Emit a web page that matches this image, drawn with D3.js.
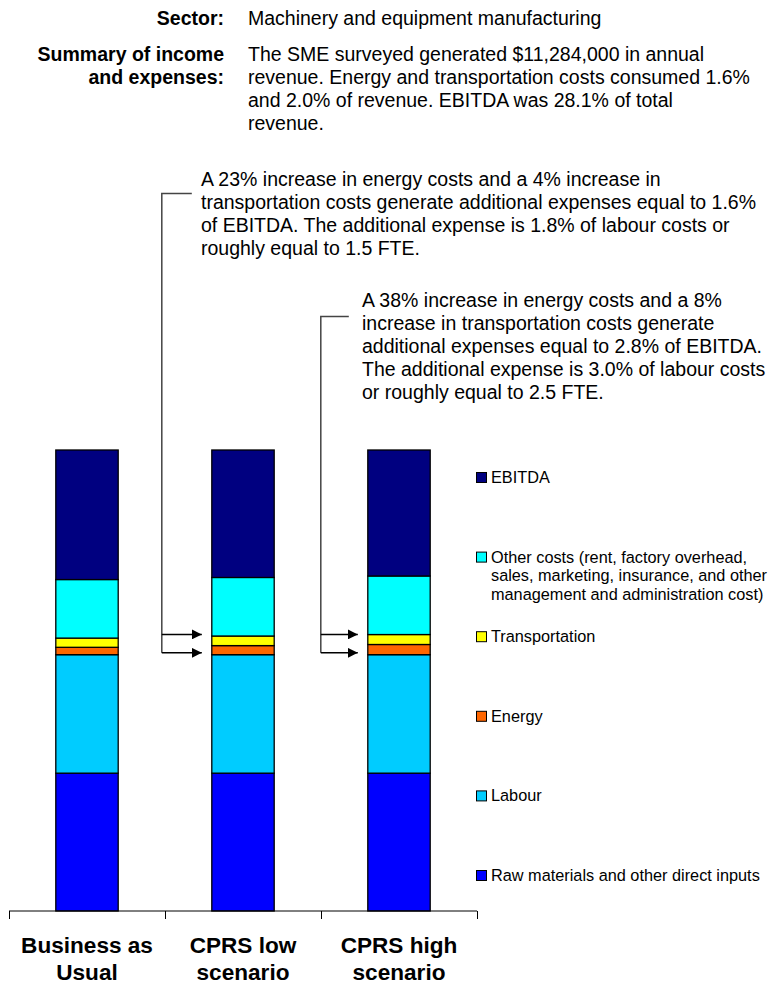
<!DOCTYPE html>
<html>
<head>
<meta charset="utf-8">
<script src="https://cdn.jsdelivr.net/npm/d3@7"></script>
<style>
  html, body { margin: 0; padding: 0; background: #fff; }
  svg text { font-family: "Liberation Sans", Arial, Helvetica, sans-serif; fill: #000; }
</style>
</head>
<body>
<svg id="chart" width="770" height="984"></svg>
<script>
// Cost structure as a share of annual revenue (%), one value per scenario
const categories = ["Business as Usual", "CPRS low scenario", "CPRS high scenario"];
const categoryLines = [["Business as", "Usual"], ["CPRS low", "scenario"], ["CPRS high", "scenario"]];
const rawMaterials = [29.9, 29.9, 29.9];
const labour = [25.7, 25.7, 25.7];
const energy = [1.60, 1.97, 2.21];
const transportation = [2.00, 2.08, 2.16];
const otherCosts = [12.7, 12.7, 12.7];
const ebitda = [28.1, 27.65, 27.33];

const seriesKeys = ["raw", "labour", "energy", "transport", "other", "ebitda"];
const seriesColors = ["#0000ff", "#00ccff", "#ff6600", "#ffff00", "#00ffff", "#000080"];
const legendLabels = [
  ["EBITDA"],
  ["Other costs (rent, factory overhead,", "sales, marketing, insurance, and other", "management and administration cost)"],
  ["Transportation"],
  ["Energy"],
  ["Labour"],
  ["Raw materials and other direct inputs"]
];
const legendColors = ["#000080", "#00ffff", "#ffff00", "#ff6600", "#00ccff", "#0000ff"];

const sectorText = "Machinery and equipment manufacturing";
const summaryLines = [
  "The SME surveyed generated $11,284,000 in annual",
  "revenue. Energy and transportation costs consumed 1.6%",
  "and 2.0% of revenue. EBITDA was 28.1% of total",
  "revenue."
];
const noteLow = [
  "A 23% increase in energy costs and a 4% increase in",
  "transportation costs generate additional expenses equal to 1.6%",
  "of EBITDA. The additional expense is 1.8% of labour costs or",
  "roughly equal to 1.5 FTE."
];
const noteHigh = [
  "A 38% increase in energy costs and a 8%",
  "increase in transportation costs generate",
  "additional expenses equal to 2.8% of EBITDA.",
  "The additional expense is 3.0% of labour costs",
  "or roughly equal to 2.5 FTE."
];
// levels (% of revenue) that the annotation arrows point at
const arrowLevels = [60.0, 56.0];

const table = categories.map((c, i) => ({
  category: c,
  raw: rawMaterials[i], labour: labour[i], energy: energy[i],
  transport: transportation[i], other: otherCosts[i], ebitda: ebitda[i]
}));

const svg = d3.select("#chart");
const bodySize = 19.5;

const x = d3.scaleBand().domain(categories).range([9, 477]).paddingInner(0).paddingOuter(0);
const y = d3.scaleLinear().domain([0, 100]).range([911, 450]);
const barW = x.bandwidth() * 0.4;

const stacked = d3.stack().keys(seriesKeys)(table);

// stacked bars
svg.append("g").selectAll("g")
  .data(stacked)
  .join("g")
    .attr("fill", (d, i) => seriesColors[i])
  .selectAll("rect")
  .data(d => d)
  .join("rect")
    .attr("x", d => x(d.data.category) + (x.bandwidth() - barW) / 2)
    .attr("y", d => y(d[1]))
    .attr("width", barW)
    .attr("height", d => y(d[0]) - y(d[1]))
    .attr("stroke", "#000")
    .attr("stroke-width", 1.3);

// category axis
const axis = svg.append("g").attr("transform", `translate(0,${y(0)})`);
axis.append("line").attr("x1", x.range()[0]).attr("x2", x.range()[1])
  .attr("stroke", "#000").attr("stroke-width", 1);
const edges = categories.map(c => x(c)).concat([x.range()[1]]);
axis.selectAll("line.tick").data(edges).join("line")
  .attr("class", "tick")
  .attr("x1", d => Math.round(d) + 0.5).attr("x2", d => Math.round(d) + 0.5)
  .attr("y1", 0).attr("y2", 8)
  .attr("stroke", "#000").attr("stroke-width", 1);
axis.selectAll("text").data(categories).join("text")
  .attr("text-anchor", "middle")
  .attr("font-weight", "bold")
  .attr("font-size", 22.6)
  .attr("transform", d => `translate(${x(d) + x.bandwidth() / 2},0)`)
  .each(function (d, i) {
    d3.select(this).selectAll("tspan").data(categoryLines[i]).join("tspan")
      .attr("x", 0).attr("y", (t, j) => 41.5 + j * 27.5).text(t => t);
  });

// legend
const legend = svg.append("g").attr("transform", "translate(476,0)");
const legendTop = 483, legendStep = 79.6;
legendLabels.forEach((lines, i) => {
  const g = legend.append("g").attr("transform", `translate(0,${legendTop + i * legendStep})`);
  g.append("rect").attr("x", 0.5).attr("y", -10.5).attr("width", 10).attr("height", 10)
    .attr("fill", legendColors[i]).attr("stroke", "#000").attr("stroke-width", 1);
  g.append("text").attr("font-size", 16.3)
    .selectAll("tspan").data(lines).join("tspan")
      .attr("x", 15).attr("y", (t, j) => j * 18.6).text(t => t);
});

// header block
const header = svg.append("g");
header.append("text").attr("x", 224).attr("y", 25).attr("text-anchor", "end")
  .attr("font-weight", "bold").attr("font-size", bodySize).text("Sector:");
header.append("text").attr("x", 248).attr("y", 25).attr("font-size", bodySize).text(sectorText);
header.append("text").attr("text-anchor", "end").attr("font-weight", "bold").attr("font-size", bodySize)
  .selectAll("tspan").data(["Summary of income", "and expenses:"]).join("tspan")
    .attr("x", 224).attr("y", (t, j) => 61 + j * 23).text(t => t);
header.append("text").attr("font-size", bodySize)
  .selectAll("tspan").data(summaryLines).join("tspan")
    .attr("x", 248).attr("y", (t, j) => 61 + j * 23).text(t => t);

// annotations with elbow connectors and arrows
svg.append("defs").append("marker")
  .attr("id", "arrowhead").attr("viewBox", "0 0 10 10")
  .attr("refX", 10).attr("refY", 5)
  .attr("markerWidth", 10).attr("markerHeight", 10)
  .attr("markerUnits", "userSpaceOnUse").attr("orient", "auto")
  .append("path").attr("d", "M0,0 L10,5 L0,10 Z").attr("fill", "#000");

function annotate(lines, textX, firstBaseline, elbowY, lineX, hookEnd, tipX) {
  const g = svg.append("g");
  g.append("text").attr("font-size", bodySize)
    .selectAll("tspan").data(lines).join("tspan")
      .attr("x", textX).attr("y", (t, j) => firstBaseline + j * 23).text(t => t);
  const yBottom = y(arrowLevels[1]);
  g.append("path")
    .attr("d", `M${hookEnd},${elbowY}H${lineX}V${yBottom}`)
    .attr("fill", "none").attr("stroke", "#444").attr("stroke-width", 1.5);
  arrowLevels.forEach(v => {
    g.append("line").attr("x1", lineX).attr("x2", tipX)
      .attr("y1", y(v)).attr("y2", y(v))
      .attr("stroke", "#000").attr("stroke-width", 1.5)
      .attr("marker-end", "url(#arrowhead)");
  });
}
const lowLeft = x(categories[1]) + (x.bandwidth() - barW) / 2;
const highLeft = x(categories[2]) + (x.bandwidth() - barW) / 2;
annotate(noteLow, 201, 186, 193.5, lowLeft - 50, lowLeft - 20, lowLeft - 10);
annotate(noteHigh, 362, 307, 316.5, highLeft - 47, highLeft - 19, highLeft - 10);
</script>
</body>
</html>
